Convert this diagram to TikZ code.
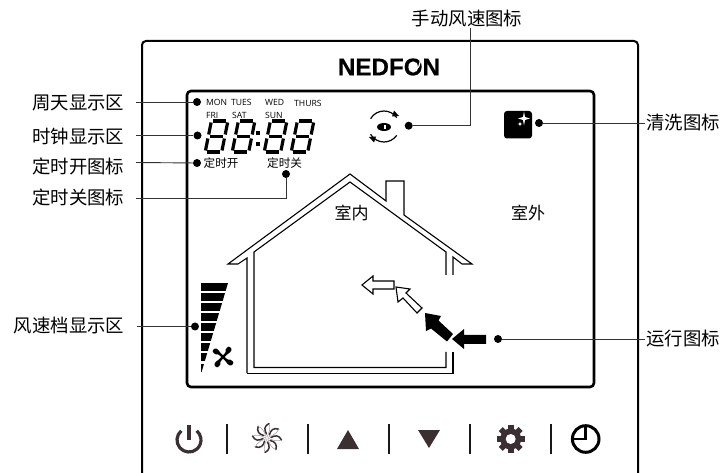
\documentclass[tikz,border=0pt]{standalone}
\usepackage{fontspec}
\setmainfont{Open Sans}
\newfontfamily\cjk{Noto Sans CJK SC}
\newfontfamily\logofont[FakeBold=0.35]{Liberation Sans}
\definecolor{ink}{HTML}{3A3032}
\tikzset{
  lead/.style={draw=black!80,line width=0.9pt},
  dotn/.style={circle,fill=black,inner sep=0pt,minimum size=8pt},
  lab/.style={inner sep=0pt,font=\cjk\fontsize{18.4}{18}\selectfont},
  lcdcn/.style={inner sep=0pt,font=\cjk\fontsize{17}{17}\selectfont},
  small/.style={inner sep=0pt,font=\cjk\fontsize{11.6}{12}\selectfont},
  day/.style={inner sep=0pt,font=\fontsize{8.6}{9}\selectfont},
  seg/.style={line width=3.2pt},
  housel/.style={line width=1.1pt,line join=miter},
  sep/.style={draw=black!90,line width=2.4pt},
  pics/digit/.style={code={
    \begin{scope}[xslant=0.2]
    \draw[seg] (3,-32)--(15.5,-32);
    \draw[seg] (3,-16.5)--(15.5,-16.5);
    \draw[seg] (3,-1)--(15.5,-1);
    \draw[seg] (1,-30.5)--(1,-18.5);
    \draw[seg] (17.5,-30.5)--(17.5,-18.5);
    \draw[seg] (1,-14.5)--(1,-2.5);
    \draw[seg] (17.5,-14.5)--(17.5,-2.5);
    \end{scope}
  }}
}
\begin{document}
\begin{tikzpicture}[x=1pt,y=-1pt]
\useasboundingbox (0,0) rectangle (721,473);
% panel and LCD
\draw[line width=2pt,rounded corners=4pt] (142,473)--(142,41)--(638,41)--(638,473);
\draw[line width=2.6pt,rounded corners=4pt] (187,91) rectangle (594,387);
\node[inner sep=0pt,font=\logofont\bfseries\fontsize{24.2}{25}\selectfont] (logo) at (389,67) {NEDFON};
\draw[white,line width=1.2pt] (413,71) .. controls (418,70) and (421,65) .. (420,57);
% day texts
\node[day,anchor=west] (mon) at (206,102) {MON};
\node[day,anchor=west] (tue) at (231,102) {TUES};
\node[day,anchor=west] (wed) at (265,102) {WED};
\node[day,anchor=west] (thu) at (294,103) {THURS};
\node[day,anchor=west] (fri) at (206,115) {FRI};
\node[day,anchor=west] (sat) at (232,115) {SAT};
\node[day,anchor=west] (sun) at (265,115) {SUN};
% digits
\pic at (204,153) {digit};
\pic at (231,153) {digit};
\pic at (263,153) {digit};
\pic at (290,153) {digit};
\fill (255.5,131) rectangle (259.5,135);
\fill (256,142) rectangle (260,146);
\node[small,anchor=west] (don) at (203.5,163) {定时开};
\node[small,anchor=west] (dof) at (267,163) {定时关};
% labels
\node[lab,anchor=east] (l1) at (124.5,103) {周天显示区};
\node[lab,anchor=east] (l2) at (124.5,137) {时钟显示区};
\node[lab,anchor=east] (l3) at (124.5,166.5) {定时开图标};
\node[lab,anchor=east] (l4) at (124.5,197) {定时关图标};
\node[lab,anchor=east] (l5) at (124.5,326) {风速档显示区};
\node[lab] (l6) at (467,19) {手动风速图标};
\node[lab,anchor=west] (l7) at (646,123) {清洗图标};
\node[lab,anchor=west] (l8) at (646,339) {运行图标};
\node[lcdcn] (in) at (351.5,213) {室内};
\node[lcdcn] (out) at (528,213) {室外};
% dots
\node[dotn] (d1) at (197,102) {};
\node[dotn] (d2) at (197.5,135.5) {};
\node[dotn] (d3) at (197,163) {};
\node[dotn] (d4) at (286,174) {};
\node[dotn] (d5) at (195,326.5) {};
\node[dotn] (d6) at (408.7,125.7) {};
\node[dotn] (d7) at (539,123) {};
\node[dotn] (d8) at (498,339) {};
\coordinate (s1) at (136,102);
\coordinate (s2) at (136,135.5);
\coordinate (s3) at (136,162.5);
\coordinate (s4) at (136,198);
\coordinate (s5) at (137,326.5);
\coordinate (s6) at (470,28);
\coordinate (s7) at (645,123);
\coordinate (s8) at (645,339);
\draw[lead] (s1)--(d1);
\draw[lead] (s2)--(d2);
\draw[lead] (s3)--(d3);
\draw[lead] (s4)-|(d4);
\draw[lead] (s5)--(d5);
\draw[lead] (s6)|-(d6);
\draw[lead] (s7)--(d7);
\draw[lead] (s8)--(d8);
% manual fan icon
\fill (384,127) ellipse (7 and 4);
\fill[white] (383.5,125) rectangle (386,129);
\begin{scope}[shift={(384,126.5)},y=1pt]
\draw[line width=1.2pt] (150:15.5) arc[start angle=150,end angle=35,radius=15.5];
\draw[line width=1.2pt] (-150:15.5) arc[start angle=-150,end angle=-35,radius=15.5];
\fill (10,16)--(15,10.5)--(8,10)--cycle;
\fill (-10,-16)--(-15,-10.5)--(-8,-10)--cycle;
\end{scope}
% clean icon
\fill[rounded corners=3pt] (504,111) rectangle (532,138.5);
\fill[white] (524,111.5)--(525,117)--(530,118.5)--(525,120)--(524,125.5)--(523,120)--(518,118.5)--(523,117)--cycle;
\fill[white] (520,121.5)--(520.6,123.4)--(522.5,124)--(520.6,124.6)--(520,126.5)--(519.4,124.6)--(517.5,124)--(519.4,123.4)--cycle;
% house
\draw[housel] (247,373)--(247,258)--(238,264)--(228,264)--(350,174)--(386,201)--(386,181)--(404,181)--(404,215)--(472,264)--(462,264)--(453,257)--(453,275);
\draw[housel] (453,352)--(453,373.5)--(247,373.5);
\draw[housel] (446,275)--(446,252)--(350,182)--(254,252)--(254,367.5)--(446,367.5)--(446,352);
% wind arrows
\draw[line width=1.1pt,line join=miter] (362,285)--(373,276)--(373,281)--(394,281)--(394,289)--(373,289)--(373,294)--cycle;
\draw[line width=1.1pt,line join=miter] (396,287)--(410,289)--(406,293)--(422,308)--(417,313)--(403,298)--(398,302)--cycle;
\fill (425,313)--(441,316)--(438.5,320.5)--(453,334)--(447,341.5)--(431,328.5)--(426,331)--cycle;
\fill (452,339)--(464,329)--(464,335)--(486,335)--(486,344)--(464,344)--(464,349)--cycle;
% fan speed bars
\begin{scope}
\clip (201,283)--(228,283)--(201,374)--cycle;
\foreach \yy in {283,293,303,313,323,333,343,353,364}
  \fill (201,\yy) rectangle (229,\yy+7.6);
\end{scope}
% little fan
\foreach \a in {45,135,225,315}
  \fill[shift={(223,357)},rotate=\a] (0,-1) -- (5,-1.5) .. controls (7,-4.5) and (12,-4.5) .. (12,-2) .. controls (12.5,1) and (10,2.5) .. (5,1.2) -- (0,1)--cycle;
\fill (223,357) circle (2.2);
% buttons
\begin{scope}[shift={(189,440)},y=1pt]
\draw[ink,line width=3.2pt] (130:12) arc[start angle=130,end angle=410,radius=12];
\end{scope}
\draw[ink,line width=3.4pt] (189,425)--(189,440);
\foreach \xx in {226.7,307.7,388.7,470,550.7}
  \draw[sep] (\xx,424)--(\xx,454);
\foreach \a in {0,45,...,315}{
  \draw[ink,line width=1.5pt,line cap=round,shift={(267,438)},rotate=\a] (4,-0.5) .. controls (8,-3) and (12,-3) .. (14.5,2);
  \draw[ink!50,line width=0.5pt,shift={(267,438)},rotate=\a] (1,0) .. controls (5,2) and (10,4) .. (14.5,2);
}
\fill[ink] (348,430)--(359,449)--(337,449)--cycle;
\fill[ink] (418,430)--(440,430)--(429,448)--cycle;
% gear
\fill[ink] (510.7,439) circle (10.5);
\foreach \a in {0,45,...,315}
  \fill[ink,shift={(510.7,439)},rotate=\a] (9,-2.8) rectangle (14,2.8);
\fill[white] (510.7,439) circle (5);
% clock
\draw[line width=3pt] (585.7,439) circle (13.3);
\draw[line width=2.8pt] (572.4,439)--(585.7,439)--(585.7,425.7);
\end{tikzpicture}
\end{document}
